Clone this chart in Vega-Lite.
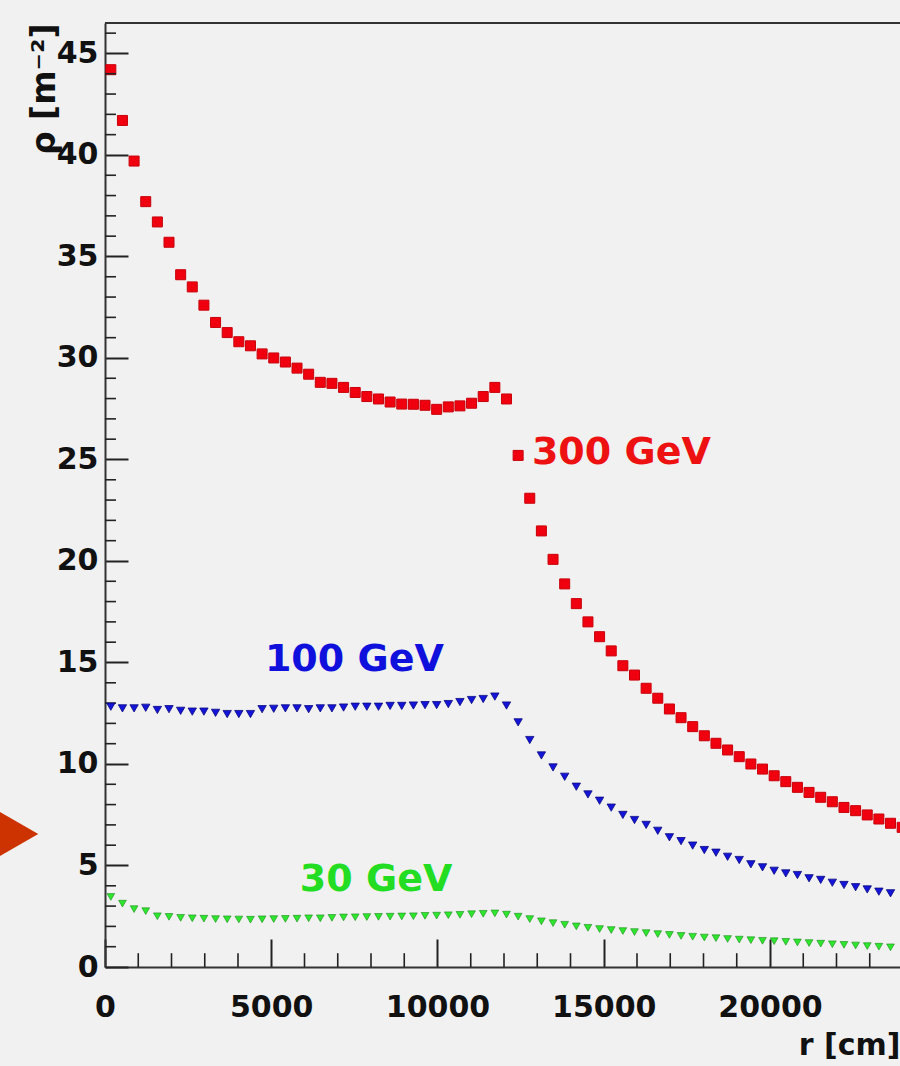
{
  "$schema": "https://vega.github.io/schema/vega-lite/v6.json",
  "width": 795,
  "height": 944,
  "autosize": {"type": "none"},
  "padding": {"left": 105, "top": 23, "right": 0, "bottom": 99},
  "background": "#f1f1f1",
  "config": {"view": {"stroke": null}, "font": "DejaVu Sans"},
  "datasets": {
    "e300": [
      {"r": 175, "rho": 44.2}, {"r": 525, "rho": 41.7}, {"r": 875, "rho": 39.7}, {"r": 1225, "rho": 37.7},
      {"r": 1575, "rho": 36.7}, {"r": 1925, "rho": 35.7}, {"r": 2275, "rho": 34.1}, {"r": 2625, "rho": 33.5},
      {"r": 2975, "rho": 32.6}, {"r": 3325, "rho": 31.75}, {"r": 3675, "rho": 31.25}, {"r": 4025, "rho": 30.8},
      {"r": 4375, "rho": 30.6}, {"r": 4725, "rho": 30.2}, {"r": 5075, "rho": 30.0}, {"r": 5425, "rho": 29.8},
      {"r": 5775, "rho": 29.5}, {"r": 6125, "rho": 29.2}, {"r": 6475, "rho": 28.8}, {"r": 6825, "rho": 28.75},
      {"r": 7175, "rho": 28.55}, {"r": 7525, "rho": 28.3}, {"r": 7875, "rho": 28.1}, {"r": 8225, "rho": 27.98},
      {"r": 8575, "rho": 27.83}, {"r": 8925, "rho": 27.73}, {"r": 9275, "rho": 27.72}, {"r": 9625, "rho": 27.67},
      {"r": 9975, "rho": 27.47}, {"r": 10325, "rho": 27.59}, {"r": 10675, "rho": 27.64}, {"r": 11025, "rho": 27.77},
      {"r": 11375, "rho": 28.1}, {"r": 11725, "rho": 28.55}, {"r": 12075, "rho": 27.98}, {"r": 12425, "rho": 25.2},
      {"r": 12775, "rho": 23.09}, {"r": 13125, "rho": 21.48}, {"r": 13475, "rho": 20.08}, {"r": 13825, "rho": 18.87},
      {"r": 14175, "rho": 17.9}, {"r": 14525, "rho": 17.0}, {"r": 14875, "rho": 16.27}, {"r": 15225, "rho": 15.57},
      {"r": 15575, "rho": 14.84}, {"r": 15925, "rho": 14.38}, {"r": 16275, "rho": 13.73}, {"r": 16625, "rho": 13.24},
      {"r": 16975, "rho": 12.71}, {"r": 17325, "rho": 12.28}, {"r": 17675, "rho": 11.84}, {"r": 18025, "rho": 11.39},
      {"r": 18375, "rho": 11.02}, {"r": 18725, "rho": 10.69}, {"r": 19075, "rho": 10.36}, {"r": 19425, "rho": 10.0},
      {"r": 19775, "rho": 9.75}, {"r": 20125, "rho": 9.42}, {"r": 20475, "rho": 9.13}, {"r": 20825, "rho": 8.85},
      {"r": 21175, "rho": 8.6}, {"r": 21525, "rho": 8.36}, {"r": 21875, "rho": 8.14}, {"r": 22225, "rho": 7.86},
      {"r": 22575, "rho": 7.7}, {"r": 22925, "rho": 7.49}, {"r": 23275, "rho": 7.29}, {"r": 23625, "rho": 7.08},
      {"r": 23975, "rho": 6.88}
    ],
    "e100": [
      {"r": 175, "rho": 12.82}, {"r": 525, "rho": 12.74}, {"r": 875, "rho": 12.74}, {"r": 1225, "rho": 12.77},
      {"r": 1575, "rho": 12.66}, {"r": 1925, "rho": 12.7}, {"r": 2275, "rho": 12.62}, {"r": 2625, "rho": 12.58},
      {"r": 2975, "rho": 12.58}, {"r": 3325, "rho": 12.52}, {"r": 3675, "rho": 12.46}, {"r": 4025, "rho": 12.46},
      {"r": 4375, "rho": 12.46}, {"r": 4725, "rho": 12.7}, {"r": 5075, "rho": 12.72}, {"r": 5425, "rho": 12.74},
      {"r": 5775, "rho": 12.74}, {"r": 6125, "rho": 12.7}, {"r": 6475, "rho": 12.74}, {"r": 6825, "rho": 12.74},
      {"r": 7175, "rho": 12.78}, {"r": 7525, "rho": 12.82}, {"r": 7875, "rho": 12.82}, {"r": 8225, "rho": 12.82},
      {"r": 8575, "rho": 12.86}, {"r": 8925, "rho": 12.86}, {"r": 9275, "rho": 12.88}, {"r": 9625, "rho": 12.9},
      {"r": 9975, "rho": 12.9}, {"r": 10325, "rho": 12.95}, {"r": 10675, "rho": 13.05}, {"r": 11025, "rho": 13.15},
      {"r": 11375, "rho": 13.2}, {"r": 11725, "rho": 13.32}, {"r": 12075, "rho": 12.88}, {"r": 12425, "rho": 12.05},
      {"r": 12775, "rho": 11.18}, {"r": 13125, "rho": 10.42}, {"r": 13475, "rho": 9.83}, {"r": 13825, "rho": 9.37},
      {"r": 14175, "rho": 8.88}, {"r": 14525, "rho": 8.5}, {"r": 14875, "rho": 8.19}, {"r": 15225, "rho": 7.85},
      {"r": 15575, "rho": 7.49}, {"r": 15925, "rho": 7.24}, {"r": 16275, "rho": 7.0}, {"r": 16625, "rho": 6.71},
      {"r": 16975, "rho": 6.39}, {"r": 17325, "rho": 6.2}, {"r": 17675, "rho": 5.98}, {"r": 18025, "rho": 5.76},
      {"r": 18375, "rho": 5.63}, {"r": 18725, "rho": 5.43}, {"r": 19075, "rho": 5.27}, {"r": 19425, "rho": 5.06},
      {"r": 19775, "rho": 4.91}, {"r": 20125, "rho": 4.74}, {"r": 20475, "rho": 4.61}, {"r": 20825, "rho": 4.53},
      {"r": 21175, "rho": 4.37}, {"r": 21525, "rho": 4.29}, {"r": 21875, "rho": 4.15}, {"r": 22225, "rho": 4.04},
      {"r": 22575, "rho": 3.93}, {"r": 22925, "rho": 3.82}, {"r": 23275, "rho": 3.71}, {"r": 23625, "rho": 3.63}
    ],
    "e30": [
      {"r": 175, "rho": 3.45}, {"r": 525, "rho": 3.12}, {"r": 875, "rho": 2.85}, {"r": 1225, "rho": 2.75},
      {"r": 1575, "rho": 2.5}, {"r": 1925, "rho": 2.47}, {"r": 2275, "rho": 2.42}, {"r": 2625, "rho": 2.4},
      {"r": 2975, "rho": 2.38}, {"r": 3325, "rho": 2.36}, {"r": 3675, "rho": 2.35}, {"r": 4025, "rho": 2.34},
      {"r": 4375, "rho": 2.33}, {"r": 4725, "rho": 2.35}, {"r": 5075, "rho": 2.36}, {"r": 5425, "rho": 2.37},
      {"r": 5775, "rho": 2.38}, {"r": 6125, "rho": 2.4}, {"r": 6475, "rho": 2.4}, {"r": 6825, "rho": 2.42},
      {"r": 7175, "rho": 2.44}, {"r": 7525, "rho": 2.45}, {"r": 7875, "rho": 2.46}, {"r": 8225, "rho": 2.47},
      {"r": 8575, "rho": 2.48}, {"r": 8925, "rho": 2.49}, {"r": 9275, "rho": 2.5}, {"r": 9625, "rho": 2.52},
      {"r": 9975, "rho": 2.53}, {"r": 10325, "rho": 2.55}, {"r": 10675, "rho": 2.57}, {"r": 11025, "rho": 2.6},
      {"r": 11375, "rho": 2.62}, {"r": 11725, "rho": 2.64}, {"r": 12075, "rho": 2.58}, {"r": 12425, "rho": 2.48},
      {"r": 12775, "rho": 2.36}, {"r": 13125, "rho": 2.25}, {"r": 13475, "rho": 2.16}, {"r": 13825, "rho": 2.08},
      {"r": 14175, "rho": 2.0}, {"r": 14525, "rho": 1.93}, {"r": 14875, "rho": 1.87}, {"r": 15225, "rho": 1.82},
      {"r": 15575, "rho": 1.77}, {"r": 15925, "rho": 1.72}, {"r": 16275, "rho": 1.67}, {"r": 16625, "rho": 1.62},
      {"r": 16975, "rho": 1.58}, {"r": 17325, "rho": 1.53}, {"r": 17675, "rho": 1.49}, {"r": 18025, "rho": 1.45},
      {"r": 18375, "rho": 1.42}, {"r": 18725, "rho": 1.38}, {"r": 19075, "rho": 1.35}, {"r": 19425, "rho": 1.32},
      {"r": 19775, "rho": 1.29}, {"r": 20125, "rho": 1.27}, {"r": 20475, "rho": 1.24}, {"r": 20825, "rho": 1.21},
      {"r": 21175, "rho": 1.18}, {"r": 21525, "rho": 1.15}, {"r": 21875, "rho": 1.12}, {"r": 22225, "rho": 1.09},
      {"r": 22575, "rho": 1.06}, {"r": 22925, "rho": 1.03}, {"r": 23275, "rho": 1.0}, {"r": 23625, "rho": 0.97}
    ],
    "tags": [
      {"tag": "300 GeV", "r": 12840, "rho": 25.3},
      {"tag": "100 GeV", "r": 4810, "rho": 15.1},
      {"tag": "30 GeV", "r": 5860, "rho": 4.3}
    ],
    "pointer": [
      {"r": -3050, "rho": 6.55}
    ],
    "rMinor": [
      {"r": 1000}, {"r": 2000}, {"r": 3000}, {"r": 4000}, {"r": 6000}, {"r": 7000}, {"r": 8000}, {"r": 9000},
      {"r": 11000}, {"r": 12000}, {"r": 13000}, {"r": 14000}, {"r": 16000}, {"r": 17000}, {"r": 18000}, {"r": 19000},
      {"r": 21000}, {"r": 22000}, {"r": 23000}
    ],
    "rhoMinor": [
      {"rho": 1}, {"rho": 2}, {"rho": 3}, {"rho": 4}, {"rho": 6}, {"rho": 7}, {"rho": 8}, {"rho": 9},
      {"rho": 11}, {"rho": 12}, {"rho": 13}, {"rho": 14}, {"rho": 16}, {"rho": 17}, {"rho": 18}, {"rho": 19},
      {"rho": 21}, {"rho": 22}, {"rho": 23}, {"rho": 24}, {"rho": 26}, {"rho": 27}, {"rho": 28}, {"rho": 29},
      {"rho": 31}, {"rho": 32}, {"rho": 33}, {"rho": 34}, {"rho": 36}, {"rho": 37}, {"rho": 38}, {"rho": 39},
      {"rho": 41}, {"rho": 42}, {"rho": 43}, {"rho": 44}, {"rho": 46}
    ]
  },
  "layer": [
    {
      "data": {"name": "e300"},
      "mark": {"type": "point", "shape": "square", "filled": true, "size": 100, "color": "#f0000f", "opacity": 1, "stroke": "#c8000a", "strokeWidth": 1},
      "encoding": {
        "x": {
          "field": "r", "type": "quantitative",
          "scale": {"domain": [0, 23910], "nice": false, "zero": false},
          "axis": {
            "title": "r [cm]",
            "values": [0, 5000, 10000, 15000, 20000],
            "format": "d",
            "labelFlush": false,
            "labelOverlap": false,
            "labelFont": "DejaVu Sans",
            "labelFontWeight": "bold",
            "labelFontSize": 30,
            "labelColor": "#111111",
            "labelPadding": 53,
            "tickSize": -28,
            "tickWidth": 2,
            "tickColor": "#222222",
            "domainColor": "#333333",
            "domainWidth": 2,
            "grid": false,
            "titleAnchor": "end",
            "titleAlign": "right",
            "titleFont": "DejaVu Sans",
            "titleFontSize": 30,
            "titleFontWeight": "bold",
            "titleColor": "#111111",
            "titlePadding": 8
          }
        },
        "y": {
          "field": "rho", "type": "quantitative",
          "scale": {"domain": [0, 46.5], "nice": false, "zero": false},
          "axis": {
            "title": "ρ [m⁻²]",
            "values": [0, 5, 10, 15, 20, 25, 30, 35, 40, 45],
            "format": "d",
            "labelFlush": false,
            "labelOverlap": false,
            "labelFont": "DejaVu Sans",
            "labelFontWeight": "bold",
            "labelFontSize": 30,
            "labelColor": "#111111",
            "labelPadding": 30,
            "tickSize": -23,
            "tickWidth": 2,
            "tickColor": "#222222",
            "domainColor": "#333333",
            "domainWidth": 2,
            "grid": false,
            "titleAnchor": "end",
            "titleAlign": "right",
            "titleFont": "DejaVu Sans",
            "titleFontSize": 33,
            "titleFontWeight": "bold",
            "titleColor": "#111111",
            "titlePadding": -5
          }
        }
      }
    },
    {
      "data": {"name": "rMinor"},
      "mark": {"type": "rule", "color": "#222222", "strokeWidth": 1.6},
      "encoding": {
        "x": {"field": "r", "type": "quantitative"},
        "y": {"datum": 0, "type": "quantitative"},
        "y2": {"datum": 0.68}
      }
    },
    {
      "data": {"name": "rhoMinor"},
      "mark": {"type": "rule", "color": "#222222", "strokeWidth": 1.6},
      "encoding": {
        "y": {"field": "rho", "type": "quantitative"},
        "x": {"datum": 0, "type": "quantitative"},
        "x2": {"datum": 330}
      }
    },
    {
      "data": {"name": "e100"},
      "mark": {"type": "point", "shape": "triangle-down", "filled": true, "size": 70, "color": "#1414d8", "opacity": 1, "stroke": "#0a0a80", "strokeWidth": 0.8},
      "encoding": {
        "x": {"field": "r", "type": "quantitative"},
        "y": {"field": "rho", "type": "quantitative"}
      }
    },
    {
      "data": {"name": "e30"},
      "mark": {"type": "point", "shape": "triangle-down", "filled": true, "size": 60, "color": "#2ee62e", "opacity": 1, "stroke": "#1a8a1a", "strokeWidth": 0.6},
      "encoding": {
        "x": {"field": "r", "type": "quantitative"},
        "y": {"field": "rho", "type": "quantitative"}
      }
    },
    {
      "data": {"name": "tags"},
      "mark": {"type": "text", "align": "left", "baseline": "middle", "font": "DejaVu Sans", "fontWeight": "bold", "fontSize": 38},
      "encoding": {
        "x": {"field": "r", "type": "quantitative"},
        "y": {"field": "rho", "type": "quantitative"},
        "text": {"field": "tag"},
        "color": {
          "field": "tag", "type": "nominal", "legend": null,
          "scale": {"domain": ["300 GeV", "100 GeV", "30 GeV"], "range": ["#ee1111", "#1010dd", "#22dd22"]}
        }
      }
    },
    {
      "data": {"name": "pointer"},
      "mark": {"type": "point", "shape": "M-0.866,-1L0.866,0L-0.866,1Z", "filled": true, "size": 6400, "color": "#cc3300", "opacity": 1, "strokeWidth": 0},
      "encoding": {
        "x": {"field": "r", "type": "quantitative"},
        "y": {"field": "rho", "type": "quantitative"}
      }
    },
    {
      "data": {"values": [{}]},
      "mark": {"type": "rule", "color": "#333333", "strokeWidth": 2},
      "encoding": {
        "y": {"datum": 46.5, "type": "quantitative"}
      }
    }
  ]
}
